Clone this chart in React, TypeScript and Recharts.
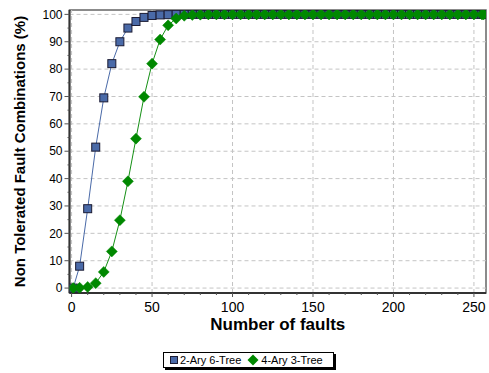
import React from 'react';
import { ComposedChart, Line, XAxis, YAxis, ReferenceLine, ReferenceArea } from 'recharts';

// number of faults injected
const faults = [
  1, 5, 10, 15, 20, 25, 30, 35, 40, 45, 50, 55, 60, 65, 70, 75, 80, 85, 90, 95,
  100, 105, 110, 115, 120, 125, 130, 135, 140, 145, 150, 155, 160, 165, 170, 175, 180, 185, 190, 195,
  200, 205, 210, 215, 220, 225, 230, 235, 240, 245, 250, 255, 256,
];

// 2-Ary 6-Tree (%)
const binaryTree = [
  0, 8, 29, 51.5, 69.5, 82, 90, 95, 97.4, 98.9, 99.6, 99.8, 99.9, 100, 100, 100, 100, 100, 100, 100,
  100, 100, 100, 100, 100, 100, 100, 100, 100, 100, 100, 100, 100, 100, 100, 100, 100, 100, 100, 100,
  100, 100, 100, 100, 100, 100, 100, 100, 100, 100, 100, 100, 100,
];

// 4-Ary 3-Tree (%)
const quaternaryTree = [
  0, 0.1, 0.4, 1.8, 5.9, 13.4, 24.8, 39, 54.6, 69.9, 82, 90.8, 96, 98.5, 99.5, 99.8, 99.9, 100, 100, 100,
  100, 100, 100, 100, 100, 100, 100, 100, 100, 100, 100, 100, 100, 100, 100, 100, 100, 100, 100, 100,
  100, 100, 100, 100, 100, 100, 100, 100, 100, 100, 100, 100, 100,
];

const xTicks = [0, 50, 100, 150, 200, 250];
const xMinorTicks = [0, 10, 20, 30, 40, 50, 60, 70, 80, 90, 100, 110, 120, 130, 140, 150, 160, 170, 180, 190, 200, 210, 220, 230, 240, 250];
const yTicks = [0, 10, 20, 30, 40, 50, 60, 70, 80, 90, 100];
const yMinorTicks = [0, 5, 10, 15, 20, 25, 30, 35, 40, 45, 50, 55, 60, 65, 70, 75, 80, 85, 90, 95, 100];

const data = faults.map((f, i) => ({ faults: f, binary: binaryTree[i], quaternary: quaternaryTree[i] }));

const X_DOMAIN: [number, number] = [-1.3, 257.5];
const Y_DOMAIN: [number, number] = [-1.8, 101.6];

const FONT = "'Liberation Sans', Arial, sans-serif";
const BLUE = '#4a6aa8';
const GREEN = '#008800';
const GRID = '#c4c4c4';

const XTick = (props: any) => {
  const { x, y, payload } = props;
  const major = xTicks.includes(payload.value);
  return (
    <g>
      <line x1={x} x2={x} y1={y} y2={y + (major ? 4 : 2)} stroke="#555" />
      {major && (
        <text x={x} y={y + 9} dy="0.71em" textAnchor="middle" fontSize={14} fill="#000" fontFamily={FONT}>
          {payload.value}
        </text>
      )}
    </g>
  );
};

const YTick = (props: any) => {
  const { x, y, payload } = props;
  const major = yTicks.includes(payload.value);
  return (
    <g>
      <line x1={x - (major ? 5 : 2)} x2={x} y1={y} y2={y} stroke="#555" />
      {major && (
        <text x={x - 7} y={y} dy="0.355em" textAnchor="end" fontSize={12} fill="#000" fontFamily={FONT}>
          {payload.value}
        </text>
      )}
    </g>
  );
};

const SquareDot = (props: any) => {
  const { cx, cy, index } = props;
  return <rect key={`sq-${index}`} x={cx - 4} y={cy - 4} width={8} height={8} fill={BLUE} stroke="#1b1b33" strokeWidth={1} />;
};

const DiamondDot = (props: any) => {
  const { cx, cy, index } = props;
  const r = 5.5;
  return (
    <path
      key={`dm-${index}`}
      d={`M${cx},${cy - r}L${cx + r},${cy}L${cx},${cy + r}L${cx - r},${cy}Z`}
      fill={GREEN}
      stroke={GREEN}
      strokeWidth={0.5}
    />
  );
};

const Legend = () => (
  <div
    style={{
      position: 'absolute',
      left: 163,
      top: 352,
      width: 169,
      height: 14,
      border: '1px solid #000',
      boxShadow: '2px 2px 0 #000',
      background: '#fff',
      display: 'flex',
      alignItems: 'center',
      fontFamily: FONT,
      fontSize: 11,
      lineHeight: '14px',
      color: '#000',
    }}
  >
    <span style={{ display: 'inline-block', width: 6, height: 6, marginLeft: 6, marginRight: 2, background: BLUE, border: '1px solid #1b1b33' }} />
    <span>2-Ary 6-Tree</span>
    <svg width={12} height={12} style={{ marginLeft: 6, marginRight: 2 }}>
      <path d="M6,0.5L11.5,6L6,11.5L0.5,6Z" fill={GREEN} />
    </svg>
    <span>4-Ary 3-Tree</span>
  </div>
);

export default function App() {
  return (
    <div style={{ position: 'absolute', left: 0, top: 0, width: 489, height: 373, background: '#fff' }}>
      <ComposedChart width={489} height={373} data={data} margin={{ top: 10, right: 3, left: 0, bottom: 35 }}>
        <XAxis
          dataKey="faults"
          type="number"
          domain={X_DOMAIN}
          allowDataOverflow
          ticks={xMinorTicks}
          interval={0}
          tickSize={0}
          tickMargin={0}
          tickLine={false}
          tick={<XTick />}
          axisLine={{ stroke: '#333', strokeWidth: 2 }}
          height={45}
          label={{
            value: 'Number of faults',
            position: 'insideBottom',
            offset: 8,
            fontSize: 17,
            fontWeight: 'bold',
            fill: '#000',
            fontFamily: FONT,
          }}
        />
        <YAxis
          type="number"
          domain={Y_DOMAIN}
          allowDataOverflow
          ticks={yMinorTicks}
          interval={0}
          tickSize={0}
          tickMargin={0}
          tickLine={false}
          tick={<YTick />}
          axisLine={{ stroke: '#333', strokeWidth: 2 }}
          width={69.5}
          label={{
            content: (p: any) => {
              const vb = p.viewBox || { x: 0, y: 10, width: 69.5, height: 283 };
              const cy = vb.y + vb.height / 2;
              return (
                <text
                  x={20}
                  y={cy}
                  transform={`rotate(-90, 20, ${cy})`}
                  textAnchor="middle"
                  dy="0.355em"
                  fontSize={15}
                  fontWeight="bold"
                  fill="#000"
                  fontFamily={FONT}
                >
                  Non Tolerated Fault Combinations (%)
                </text>
              );
            },
          }}
        />
        {xTicks.map((v) => (
          <ReferenceLine key={`gx-${v}`} x={v} stroke={GRID} strokeDasharray="4 3" />
        ))}
        {yTicks.map((v) => (
          <ReferenceLine key={`gy-${v}`} y={v} stroke={GRID} strokeDasharray="4 3" />
        ))}
        <ReferenceArea x1={X_DOMAIN[0]} x2={X_DOMAIN[1]} y1={Y_DOMAIN[0]} y2={Y_DOMAIN[1]} fill="none" fillOpacity={0} stroke="#666" strokeWidth={1.5} />
        <Line
          dataKey="binary"
          name="2-Ary 6-Tree"
          stroke={BLUE}
          strokeWidth={1}
          dot={SquareDot}
          activeDot={false}
          isAnimationActive={false}
        />
        <Line
          dataKey="quaternary"
          name="4-Ary 3-Tree"
          stroke="#159015"
          strokeWidth={1}
          dot={DiamondDot}
          activeDot={false}
          isAnimationActive={false}
        />
      </ComposedChart>
      <Legend />
    </div>
  );
}
